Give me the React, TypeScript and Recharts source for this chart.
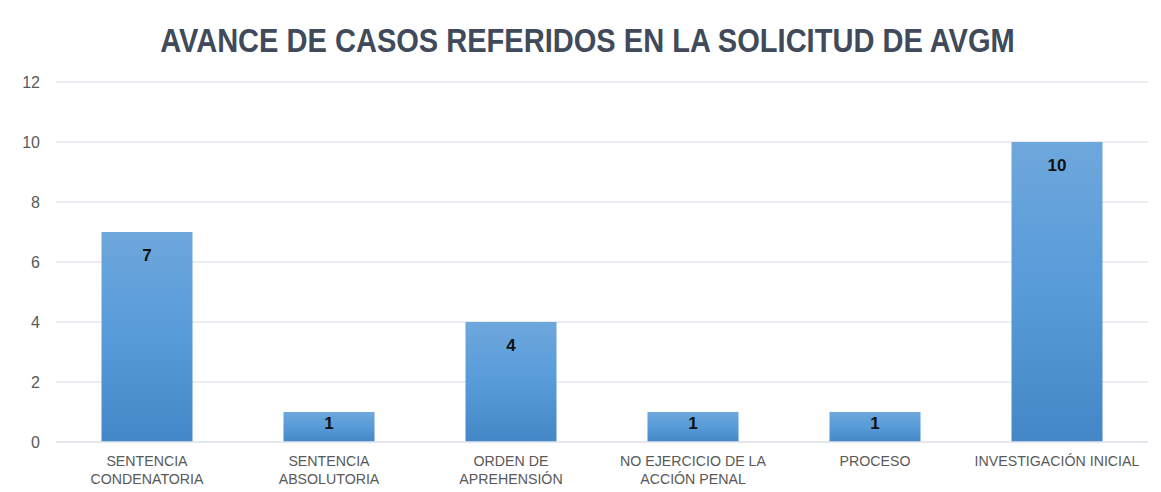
import { BarChart, Bar, XAxis, YAxis, CartesianGrid, LabelList } from 'recharts';

const categories = [
  'SENTENCIA\nCONDENATORIA',
  'SENTENCIA\nABSOLUTORIA',
  'ORDEN DE\nAPREHENSIÓN',
  'NO EJERCICIO DE LA\nACCIÓN PENAL',
  'PROCESO',
  'INVESTIGACIÓN INICIAL',
];
const casos = [7, 1, 4, 1, 1, 10];
const yTicks = [0, 2, 4, 6, 8, 10, 12];

const data = categories.map((name, i) => ({ name, casos: casos[i] }));

const FONT = '"Liberation Sans", Arial, sans-serif';

function CategoryTick(props: any) {
  const { x, y, payload } = props;
  const lines = String(payload.value).split('\n');
  return (
    <text
      x={x}
      y={y}
      textAnchor="middle"
      fill="#595959"
      fontSize={14.2}
      fontFamily={FONT}
    >
      {lines.map((line, i) => (
        <tspan key={i} x={x} dy={i === 0 ? 16 : 18}>
          {line}
        </tspan>
      ))}
    </text>
  );
}

function ValueLabel(props: any) {
  const { x, y, width, height, value } = props;
  // short bars get the label closer to the top edge
  const offset = Math.min(23, height / 2 - 4);
  return (
    <text
      x={x + width / 2}
      y={y + offset}
      textAnchor="middle"
      dominantBaseline="central"
      fill="#111"
      fontSize={17}
      fontWeight="bold"
      fontFamily={FONT}
    >
      {value}
    </text>
  );
}

export default function App() {
  return (
    <div
      style={{
        position: 'absolute',
        left: 0,
        top: 0,
        width: 1161,
        height: 492,
        background: '#fff',
      }}
    >
      <div
        style={{
          position: 'absolute',
          left: 0,
          top: 21,
          width: 1175,
          textAlign: 'center',
          fontFamily: FONT,
          fontWeight: 'bold',
          fontSize: 33,
          lineHeight: '40px',
          color: '#404a5b',
          transform: 'scaleX(0.88)',
          transformOrigin: '587px 0',
        }}
      >
        AVANCE DE CASOS REFERIDOS EN LA SOLICITUD DE AVGM
      </div>
      <BarChart
        width={1161}
        height={492}
        data={data}
        margin={{ top: 82, right: 13, bottom: 0, left: 0 }}
        barCategoryGap="25%"
      >
        <defs>
          <linearGradient id="barFill" x1="0" y1="0" x2="0" y2="1">
            <stop offset="0%" stopColor="#6ea7dc" />
            <stop offset="50%" stopColor="#579bd9" />
            <stop offset="100%" stopColor="#4387c6" />
          </linearGradient>
        </defs>
        <CartesianGrid vertical={false} stroke="#e3e6ec" strokeWidth={1.5} />
        <XAxis
          dataKey="name"
          height={50}
          interval={0}
          axisLine={{ stroke: '#e3e6ec', strokeWidth: 1.5 }}
          tickLine={false}
          tick={<CategoryTick />}
        />
        <YAxis
          width={56}
          domain={[0, 12]}
          ticks={yTicks}
          axisLine={false}
          tickLine={false}
          tickSize={0}
          tickMargin={16}
          tick={{ fill: '#595959', fontSize: 16, fontFamily: FONT }}
        />
        <Bar dataKey="casos" fill="url(#barFill)" isAnimationActive={false}>
          <LabelList dataKey="casos" content={<ValueLabel />} />
        </Bar>
      </BarChart>
    </div>
  );
}
